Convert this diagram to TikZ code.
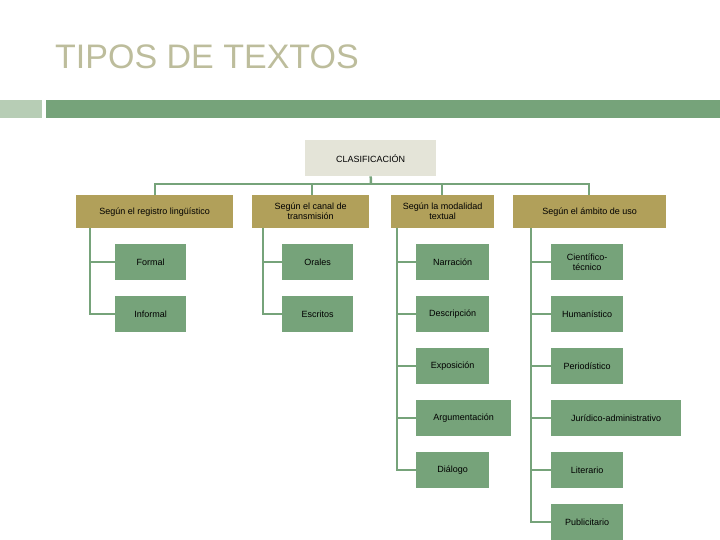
\documentclass[tikz,border=0pt]{standalone}
\usepackage{fontspec}
\setmainfont{Liberation Sans}
\definecolor{grn}{HTML}{76A37A}
\definecolor{lgrn}{HTML}{B7CDB5}
\definecolor{oliv}{HTML}{B1A05A}
\definecolor{beig}{HTML}{E4E4D8}
\definecolor{ttl}{HTML}{BDBD9C}
\begin{document}
\begin{tikzpicture}[x=1pt,y=-1pt,
  lvl/.style={fill=oliv,minimum height=33pt,inner sep=1pt,align=center,font=\fontsize{9}{10}\selectfont,anchor=north west},
  leaf/.style={fill=grn,minimum height=36pt,inner sep=1pt,align=center,font=\fontsize{9}{10}\selectfont,anchor=west},
  conn/.style={draw=grn,line width=2.5pt}]
\useasboundingbox (0,0) rectangle (720,540);
\node[anchor=west,text=ttl,font=\fontsize{34}{36}\selectfont,inner sep=0] (title) at (55,57) {TIPOS DE TEXTOS};
\fill[lgrn] (0,100) rectangle (42,118);
\fill[grn] (46,100) rectangle (720,118);
\node[fill=beig,minimum width=131pt,minimum height=36pt,font=\fontsize{9}{10}\selectfont,anchor=north west] (root) at (305,140) {CLASIFICACIÓN};
\node[lvl,minimum width=157pt] (a) at (76,195) {Según el registro lingüístico};
\node[lvl,minimum width=117pt] (b) at (252,195) {Según el canal de\\transmisión};
\node[lvl,minimum width=103pt] (c) at (391,195) {Según la modalidad\\textual};
\node[lvl,minimum width=153pt] (d) at (513,195) {Según el ámbito de uso};
\coordinate (h) at (371,184);
\draw[conn] (root.south) -- (h);
\draw[conn] (a.north -| 155,0) |- (h) -| (d.north -| 589,0);
\draw[conn] (b.north -| 312,0) -- (h -| 312,0);
\draw[conn] (c.north -| 442,0) -- (h -| 442,0);
% column 1
\node[leaf,minimum width=71pt] (a1) at (115,262) {Formal};
\node[leaf,minimum width=71pt] (a2) at (115,314) {Informal};
\draw[conn] (a.south -| 90,0) |- (a2.west);
\draw[conn] (a1.west -| 90,0) -- (a1.west);
% column 2
\node[leaf,minimum width=71pt] (b1) at (282,262) {Orales};
\node[leaf,minimum width=71pt] (b2) at (282,314) {Escritos};
\draw[conn] (b.south -| 263,0) |- (b2.west);
\draw[conn] (b1.west -| 263,0) -- (b1.west);
% column 3
\node[leaf,minimum width=73pt] (c1) at (416,262) {Narración};
\node[leaf,minimum width=73pt] (c2) at (416,314) {Descripción};
\node[leaf,minimum width=73pt] (c3) at (416,366) {Exposición};
\node[leaf,minimum width=95pt] (c4) at (416,418) {Argumentación};
\node[leaf,minimum width=73pt] (c5) at (416,470) {Diálogo};
\draw[conn] (c.south -| 397,0) |- (c5.west);
\foreach \n in {c1,c2,c3,c4} \draw[conn] (\n.west -| 397,0) -- (\n.west);
% column 4
\node[leaf,minimum width=72pt] (d1) at (551,262) {Científico-\\técnico};
\node[leaf,minimum width=72pt] (d2) at (551,314) {Humanístico};
\node[leaf,minimum width=72pt] (d3) at (551,366) {Periodístico};
\node[leaf,minimum width=130pt] (d4) at (551,418) {Jurídico-administrativo};
\node[leaf,minimum width=72pt] (d5) at (551,470) {Literario};
\node[leaf,minimum width=72pt] (d6) at (551,522) {Publicitario};
\draw[conn] (d.south -| 531,0) |- (d6.west);
\foreach \n in {d1,d2,d3,d4,d5} \draw[conn] (\n.west -| 531,0) -- (\n.west);
\end{tikzpicture}
\end{document}
